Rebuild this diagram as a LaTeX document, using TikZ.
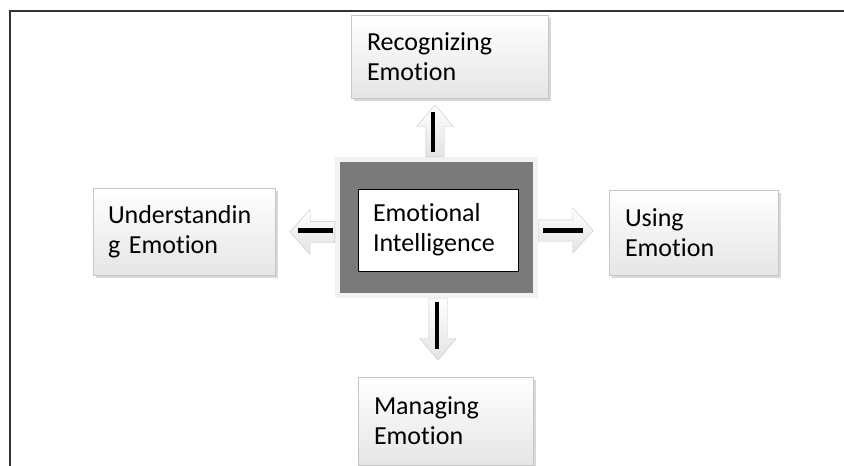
\documentclass[tikz,border=0pt]{standalone}
\usepackage{fontspec}
\setmainfont[Ligatures=NoCommon]{Carlito}
\usetikzlibrary{shapes.arrows, shadows, positioning}

\begin{document}
\begin{tikzpicture}[x=1pt, y=-1pt,
			emobox/.style={draw=gray!45, top color=white, bottom color=gray!20,
				drop shadow={shadow xshift=2.5pt, shadow yshift=-2.5pt, fill=gray!60},
				align=left, inner xsep=16pt, inner ysep=0pt,
				font=\fontsize{26}{30}\selectfont},
			blockarrow/.style={single arrow, draw=gray!45, top color=white, bottom color=gray!22,
				inner xsep=0pt, inner ysep=9pt, single arrow head extend=9pt, single arrow tip angle=80,
				minimum width=36pt},
			widearrow/.style={blockarrow, inner ysep=10.5pt, single arrow head extend=12pt, single arrow tip angle=96,
				minimum width=45pt},
			stem/.style={draw=black, line width=#1}]
			% Bildbereich
			\useasboundingbox (0,0) rectangle (844,466);
			% Rahmen
			\draw[line width=1.2pt, black!80] (10,466) -- (10,11) -- (844,11);
			% Mitte
			\node[draw=gray!10, line width=5pt, fill=black!52, minimum width=198pt, minimum height=136pt,
				drop shadow={shadow xshift=2pt, shadow yshift=-2pt, fill=gray!50}] (frame) at (436.5,227.5) {};
			\node[draw=black, line width=0.8pt, fill=white, minimum width=160pt, minimum height=82pt,
				text width=130pt, inner xsep=15pt, align=left, font=\fontsize{26}{30}\selectfont] (ei) at (438,230)
				{Emotional\\Intelligence};
			% Kaesten
			\node[emobox, text width=165pt, minimum height=83pt] (rec) at (449.5,56.5) {Recognizing\\Emotion};
			\node[emobox, text width=152pt, minimum height=87pt, inner xsep=15pt] (und) at (184,231.5) {Understandin\\g Emotion};
			\node[emobox, text width=137pt, minimum height=85pt] (use) at (693.5,232.5) {Using\\Emotion};
			\node[emobox, text width=143pt, minimum height=88pt] (man) at (445.5,421) {Managing\\Emotion};
			% Pfeile
			\node[blockarrow, rotate=90, anchor=tail, minimum height=52pt] (uparr) at ([xshift=-1.5pt]frame.north) {};
			\node[widearrow, rotate=180, anchor=tail, minimum height=45pt] (leftarr) at ([yshift=-4.5pt]frame.west) {};
			\node[widearrow, rotate=0, anchor=tail, minimum height=55pt] (rightarr) at ([yshift=-3pt]frame.east) {};
			\node[blockarrow, rotate=-90, anchor=tail, minimum height=62pt] (downarr) at ([xshift=1.5pt]frame.south) {};
			\draw[stem=4pt, shorten <=5pt, shorten >=8pt] ([xshift=-2.5pt]uparr.tail) -- ([xshift=-2.5pt]uparr.tip);
			\draw[stem=5pt, shorten <=2pt, shorten >=8pt] ([yshift=2pt]leftarr.tail) -- ([yshift=2pt]leftarr.tip);
			\draw[stem=5pt, shorten <=5pt, shorten >=10pt] (rightarr.tail) -- (rightarr.tip);
			\draw[stem=4pt, shorten <=4pt, shorten >=12pt] ([xshift=-1pt]downarr.tail) -- ([xshift=-1pt]downarr.tip);
		\end{tikzpicture}
\end{document}
